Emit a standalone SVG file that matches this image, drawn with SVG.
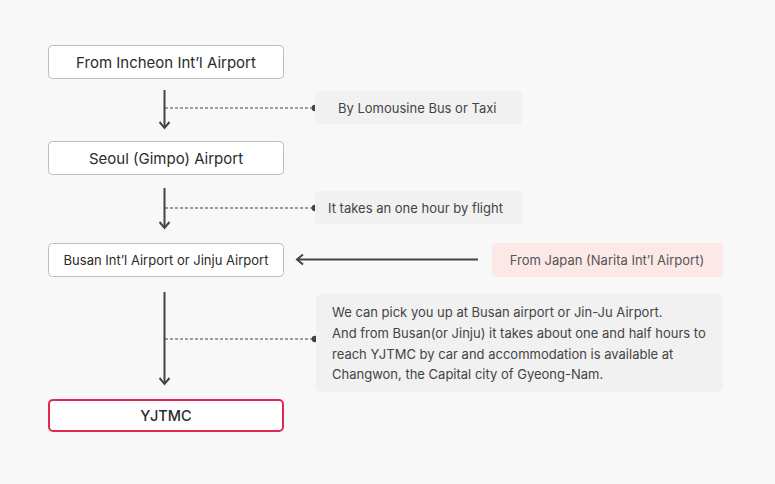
<svg xmlns="http://www.w3.org/2000/svg" width="775" height="484" viewBox="0 0 775 484">
<defs>
<style>
.node rect{fill:#ffffff;stroke:#bdbdbd;stroke-width:1}
.node text{font-family:Inter,"Noto Sans",sans-serif;font-size:15px;fill:#2b2b2b;text-anchor:middle}
.end rect{fill:#ffffff;stroke:#e2284f;stroke-width:2}
.end text{font-family:Inter,"Noto Sans",sans-serif;font-size:14.5px;font-weight:500;fill:#2b2b2b;text-anchor:middle}
.note rect{fill:#f1f1f1}
.note text{font-family:Inter,"Noto Sans",sans-serif;font-size:13px;fill:#444}
.pink rect{fill:#fde8e8}
.flow{stroke:#444;stroke-width:2;fill:none}
.dash{stroke:#444;stroke-width:1.2;stroke-dasharray:3 2;fill:none}
.dot{fill:#444}
</style>
<marker id="ah" viewBox="0 0 12 12" refX="10" refY="6" markerWidth="12" markerHeight="12" markerUnits="userSpaceOnUse" orient="auto">
<path d="M4,1 L10,6 L4,11" fill="none" stroke="#444" stroke-width="2"/>
</marker>
</defs>
<rect width="775" height="484" fill="#f8f8f8"/>

<g id="connectors">
<line class="flow" x1="164.5" y1="90" x2="164.5" y2="128" marker-end="url(#ah)"/>
<line class="dash" x1="165" y1="108" x2="315" y2="108"/>
<circle class="dot" cx="315" cy="108" r="3.3"/>
<line class="flow" x1="164.5" y1="188" x2="164.5" y2="228" marker-end="url(#ah)"/>
<line class="dash" x1="165" y1="208" x2="315" y2="208"/>
<circle class="dot" cx="315" cy="208" r="3.3"/>
<line class="flow" x1="478" y1="259.5" x2="297" y2="259.5" marker-end="url(#ah)"/>
<line class="flow" x1="164.5" y1="292" x2="164.5" y2="384" marker-end="url(#ah)"/>
<line class="dash" x1="165" y1="339" x2="315" y2="339"/>
<circle class="dot" cx="315" cy="339" r="3.3"/>
</g>

<g id="node-incheon" class="node">
<rect x="48.5" y="45.5" width="235" height="33" rx="4"/>
<text x="166" y="67.5">From Incheon Int’l Airport</text>
</g>
<g id="node-gimpo" class="node">
<rect x="48.5" y="141.5" width="235" height="33" rx="4"/>
<text x="166" y="163.5">Seoul (Gimpo) Airport</text>
</g>
<g id="node-busan" class="node">
<rect x="48.5" y="243.5" width="235" height="33" rx="4"/>
<text x="166" y="265" style="font-size:13px">Busan Int’l Airport or Jinju Airport</text>
</g>
<g id="node-yjtmc" class="end">
<rect x="49" y="400" width="234" height="31" rx="4"/>
<text x="166" y="421">YJTMC</text>
</g>

<g id="note-bus" class="note">
<rect x="315" y="91" width="207" height="33" rx="4"/>
<text x="338" y="112.5">By Lomousine Bus or Taxi</text>
</g>
<g id="note-flight" class="note">
<rect x="315" y="191" width="207" height="33" rx="4"/>
<text x="328" y="212.5">It takes an one hour by flight</text>
</g>
<g id="node-japan" class="note pink">
<rect x="492" y="243" width="231" height="34" rx="4"/>
<text x="607" y="264.5" style="text-anchor:middle;fill:#555">From Japan (Narita Int’l Airport)</text>
</g>
<g id="note-pickup" class="note">
<rect x="316" y="294" width="407" height="98" rx="5"/>
<text x="332" y="317">We can pick you up at Busan airport or Jin-Ju Airport.</text>
<text x="332" y="338">And from Busan(or Jinju) it takes about one and half hours to</text>
<text x="332" y="358.5">reach YJTMC by car and accommodation is available at</text>
<text x="332" y="379">Changwon, the Capital city of Gyeong-Nam.</text>
</g>
</svg>
